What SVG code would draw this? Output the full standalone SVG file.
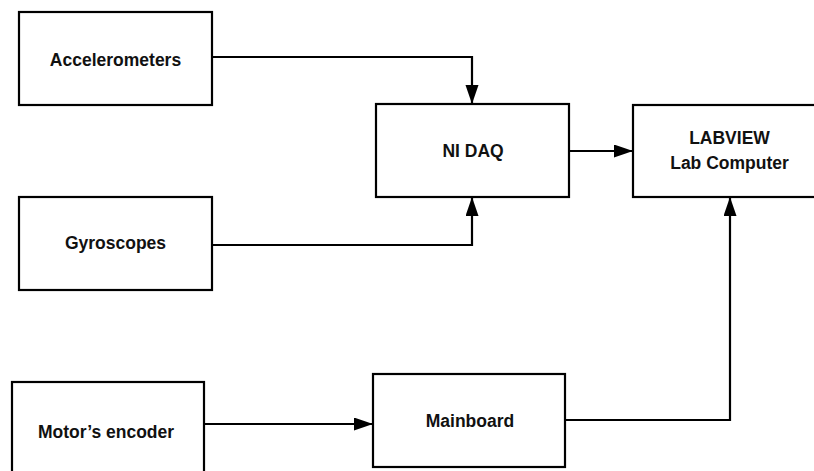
<svg xmlns="http://www.w3.org/2000/svg" width="814" height="471" viewBox="0 0 814 471">
<style>
.box{fill:#fff;stroke:#000;stroke-width:2.2}
.lbl{font-family:"Liberation Sans",Arial,sans-serif;font-weight:bold;font-size:17.5px;fill:#111;text-anchor:middle}
.wire{fill:none;stroke:#000;stroke-width:2.2;marker-end:url(#ah)}
</style>
<defs>
<marker id="ah" markerUnits="userSpaceOnUse" markerWidth="20" markerHeight="14" refX="19" refY="6.5" orient="auto">
<path d="M0,0 L19,6.5 L0,13 z" fill="#000"/>
</marker>
</defs>
<rect width="814" height="471" fill="#fff"/>
<g id="accelerometers"><rect class="box" x="19" y="12" width="193" height="93"/><text class="lbl" x="115.5" y="66">Accelerometers</text></g>
<g id="nidaq"><rect class="box" x="376" y="104" width="193" height="93"/><text class="lbl" x="473" y="157">NI DAQ</text></g>
<g id="labview"><rect class="box" x="633" y="105" width="193" height="92"/><text class="lbl" x="729.5" y="144">LABVIEW</text><text class="lbl" x="729.5" y="169">Lab Computer</text></g>
<g id="gyroscopes"><rect class="box" x="19" y="197" width="193" height="93"/><text class="lbl" x="115.5" y="249">Gyroscopes</text></g>
<g id="encoder"><rect class="box" x="12" y="382" width="192" height="95"/><text class="lbl" x="106" y="438">Motor’s encoder</text></g>
<g id="mainboard"><rect class="box" x="373" y="374" width="192" height="93"/><text class="lbl" x="470" y="427">Mainboard</text></g>
<g id="connectors">
<path class="wire" d="M212,57 H472 V104"/>
<path class="wire" d="M212,245 H472 V197"/>
<path class="wire" d="M569,151 H633"/>
<path class="wire" d="M204,424 H373"/>
<path class="wire" d="M565,420 H730 V197"/>
</g>
</svg>
